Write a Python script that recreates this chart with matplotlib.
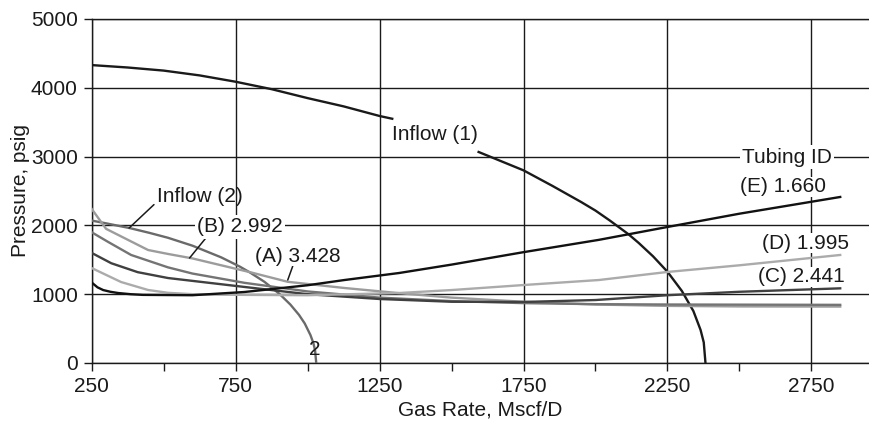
import numpy as np
import matplotlib.pyplot as plt
from matplotlib.ticker import MultipleLocator, FixedLocator

plt.rcParams['font.family'] = ['Liberation Sans', 'DejaVu Sans']

# Inflow performance curves (gas rate Mscf/D, pressure psig)
inflow1_q = [250, 375, 500, 625, 750, 875, 1000, 1125, 1250, 1294, 1594, 1750, 1850, 1950,
             2000, 2050, 2115, 2150, 2200, 2250, 2300, 2340, 2365, 2376, 2382]
inflow1_p = [4330, 4295, 4250, 4180, 4088, 3980, 3850, 3730, 3590, 3550, 3067, 2800, 2575, 2340,
             2215, 2070, 1870, 1745, 1550, 1326, 1047, 755, 480, 300, 0]

inflow2_q = [250, 300, 383, 450, 515, 600, 700, 765, 800, 850, 902, 940, 970, 990, 1010,
             1020, 1026, 1030]
inflow2_p = [2070, 2030, 1960, 1892, 1820, 1705, 1535, 1400, 1315, 1180, 1005, 850, 700,
             575, 405, 290, 180, 0]

# Tubing performance curves
tub_a_q = [250, 300, 446, 515, 600, 800, 931, 1128, 1318, 1500, 1750, 2000, 2250, 2500, 2850]
tub_a_p = [2240, 1950, 1642, 1585, 1520, 1320, 1180, 1090, 1015, 950, 890, 850, 830, 822, 820]

tub_b_q = [250, 307, 387, 515, 600, 781, 1000, 1250, 1500, 1750, 2000, 2250, 2500, 2850]
tub_b_p = [1900, 1760, 1570, 1390, 1300, 1165, 1040, 950, 900, 870, 855, 850, 848, 845]

tub_c_q = [250, 318, 410, 515, 781, 1000, 1250, 1500, 1750, 2000, 2250, 2500, 2850]
tub_c_p = [1600, 1450, 1320, 1235, 1105, 1000, 930, 890, 887, 915, 985, 1035, 1085]

tub_d_q = [250, 352, 446, 515, 600, 781, 1000, 1318, 1500, 1753, 2012, 2250, 2500, 2850]
tub_d_p = [1380, 1177, 1061, 1020, 1000, 990, 985, 1017, 1060, 1134, 1206, 1323, 1420, 1570]

tub_e_q = [250, 270, 290, 315, 342, 385, 428, 600, 781, 1000, 1128, 1318, 1500, 1753, 2012,
           2250, 2500, 2850]
tub_e_p = [1170, 1100, 1060, 1035, 1017, 1000, 990, 985, 1032, 1130, 1206, 1308, 1430, 1613,
           1790, 1977, 2170, 2413]

x_ticks = [250, 750, 1250, 1750, 2250, 2750]
y_ticks = [0, 1000, 2000, 3000, 4000, 5000]

fig = plt.figure(figsize=(8.69, 4.24), dpi=100)
ax = fig.add_axes([0.1055, 0.1439, 0.8945, 0.8113])

lw = 1.7
# inflow (1) is broken where its label sits
q1 = np.array(inflow1_q)
p1 = np.array(inflow1_p)
ax.plot(q1[q1 <= 1294], p1[q1 <= 1294], color='#1a1a1a', lw=lw, zorder=3)
ax.plot(q1[q1 >= 1594], p1[q1 >= 1594], color='#1a1a1a', lw=lw, zorder=3)
ax.plot(inflow2_q, inflow2_p, color='#6a6a6a', lw=lw, zorder=3)

ax.plot(tub_a_q, tub_a_p, color='#9c9c9c', lw=lw, zorder=3)
ax.plot(tub_b_q, tub_b_p, color='#747474', lw=lw, zorder=3)
ax.plot(tub_c_q, tub_c_p, color='#404040', lw=lw, zorder=3)
ax.plot(tub_d_q, tub_d_p, color='#ababab', lw=lw, zorder=3)
ax.plot(tub_e_q, tub_e_p, color='#111111', lw=lw, zorder=3)

ax.set_xlim(250, 2950)
ax.set_ylim(0, 5000)
ax.xaxis.set_major_locator(FixedLocator(x_ticks))
ax.xaxis.set_minor_locator(MultipleLocator(500))
ax.yaxis.set_major_locator(FixedLocator(y_ticks))
ax.grid(True, which='major', color='#1a1a1a', lw=1.0)
ax.set_axisbelow(True)
for s in ['left', 'bottom', 'top']:
    ax.spines[s].set_color('#1a1a1a')
    ax.spines[s].set_linewidth(1.0)
ax.spines['right'].set_visible(False)
ax.tick_params(which='both', direction='out', length=6, width=1.0, color='#1a1a1a',
               labelsize=15, labelcolor='#1a1a1a', pad=4)
ax.set_xlabel('Gas Rate, Mscf/D', fontsize=15, color='#1a1a1a', labelpad=3)
ax.set_ylabel('Pressure, psig', fontsize=15, color='#1a1a1a', labelpad=1)

box = dict(facecolor='white', edgecolor='none', pad=0.5)
tsize = 15
ax.text(1294, 3314, 'Inflow (1)', fontsize=tsize, ha='left', va='center', color='#1a1a1a', zorder=5)
ax.text(2820, 2994, 'Tubing ID', fontsize=tsize, ha='right', va='center', color='#1a1a1a',
        bbox=dict(box, pad=1.5), zorder=5)
ax.text(2800, 2560, '(E) 1.660', fontsize=tsize, ha='right', va='center', color='#1a1a1a', bbox=box, zorder=5)
ax.text(2880, 1744, '(D) 1.995', fontsize=tsize, ha='right', va='center', color='#1a1a1a', bbox=box, zorder=5)
ax.text(2865, 1250, '(C) 2.441', fontsize=tsize, ha='right', va='center', color='#1a1a1a', bbox=box, zorder=5)
ax.text(1024, 190, '2', fontsize=tsize, ha='center', va='center', color='#1a1a1a', zorder=5)

lead = dict(arrowstyle='-', color='#1a1a1a', lw=1.1, shrinkA=0, shrinkB=0)
ax.annotate('Inflow (2)', xy=(380, 1962), xytext=(476, 2427), fontsize=tsize, ha='left', va='center',
            color='#1a1a1a', zorder=5,
            arrowprops=dict(lead, relpos=(-0.02, 0.1)))
ax.annotate('(B) 2.992', xy=(590, 1526), xytext=(764, 1977), fontsize=tsize, ha='center', va='center',
            color='#1a1a1a', bbox=dict(box, pad=1.5), zorder=5,
            arrowprops=dict(lead, relpos=(0.12, 0.0)))
ax.annotate('(A) 3.428', xy=(931, 1206), xytext=(967, 1555), fontsize=tsize, ha='center', va='center',
            color='#1a1a1a', bbox=box, zorder=5,
            arrowprops=dict(lead, relpos=(0.44, 0.0)))

fig.savefig('out.png', dpi=100)
